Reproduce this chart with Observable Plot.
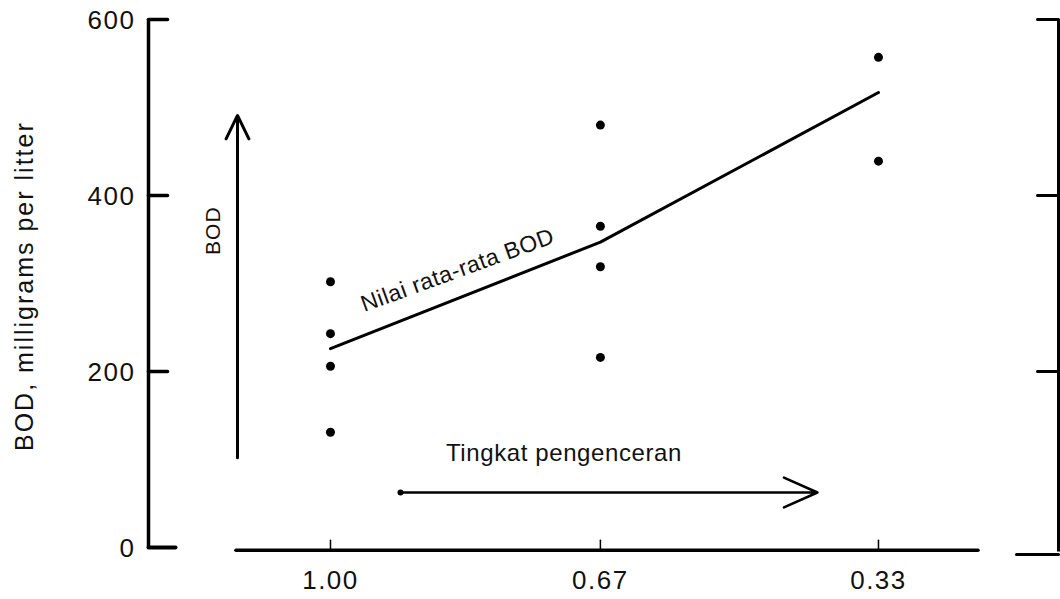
<!DOCTYPE html>
<html><head><meta charset="utf-8">
<script src="https://cdn.jsdelivr.net/npm/d3@7"></script>
<script src="https://cdn.jsdelivr.net/npm/@observablehq/plot@0.6"></script>
<style>
html,body{margin:0;padding:0;background:#fff;}
#chart svg{display:block;}
</style></head><body><div id="chart"></div>
<script>
// ---- data ----
const dilutions = [1.00, 0.67, 0.33];
const xTickLabels = ["1.00", "0.67", "0.33"];
const yTicks = [0, 200, 400, 600];
const bodAt100 = [302, 243, 206, 131];
const bodAt067 = [480, 365, 319, 216];
const bodAt033 = [557, 439];
const meanBOD = [226, 347, 517];

const yAxisLabel = "BOD, milligrams per litter";
const meanLabel = "Nilai rata-rata BOD";
const bodArrowLabel = "BOD";
const dilutionLabel = "Tingkat pengenceran";

// positions (in data units: dilution, BOD) of frame lines and annotations
const xLeftAxis = 1.2225, xRightAxis = 0.1099;
const xAxisFrom = 1.115, xAxisTo = 0.2077;
const bodArrow = {x: 1.1137, y1: 102, y2: 491};
const dilArrow = {y: 62.5, x1: 0.9144, x2: 0.4046};
const labelPos = {
  yAxis: {x: 1.374, y: 297},
  mean: {x: 0.8447, y: 315},
  bod: {x: 1.143, y: 360},
  dil: {x: 0.7145, y: 107}
};

const points = [
  ...bodAt100.map(v => ({d: dilutions[0], v})),
  ...bodAt067.map(v => ({d: dilutions[1], v})),
  ...bodAt033.map(v => ({d: dilutions[2], v}))
];
const meanData = dilutions.map((d, i) => ({d, v: meanBOD[i]}));

const spike = {draw(ctx, l) { ctx.moveTo(0, 0); ctx.lineTo(0, -l); }};
const font = "'Liberation Sans', Arial, Helvetica, sans-serif";

const chart = Plot.plot({
  width: 1060,
  height: 599,
  margin: 0,
  style: {background: "#fff", color: "#000", fontFamily: font},
  x: {domain: [xLeftAxis, xRightAxis], range: [148, 1058], axis: null},
  y: {domain: [0, 600], range: [547, 19], axis: null},
  marks: [
    // left frame axis
    Plot.ruleX([xLeftAxis], {y1: 0, y2: 600, strokeWidth: 3.5}),
    Plot.vector(yTicks.filter(t => t > 0), {x: xLeftAxis, y: d => d, length: 19, rotate: 90, anchor: "start", shape: spike, strokeWidth: 3.5}),
    Plot.vector([0], {x: xLeftAxis, y: d => d, length: 27, rotate: 90, anchor: "start", shape: spike, strokeWidth: 4, strokeLinecap: "round"}),
    Plot.text(yTicks, {x: xLeftAxis, y: d => d, text: d => String(d), dx: -13, dy: 1, textAnchor: "end", fontSize: 26, fill: "#111"}),
    // right frame axis
    Plot.ruleX([xRightAxis], {y1: -5, y2: 600, strokeWidth: 3}),
    Plot.vector(yTicks.filter(t => t > 0), {x: xRightAxis, y: d => d, length: 21, rotate: -90, anchor: "start", shape: spike, strokeWidth: 3}),
    Plot.vector([0], {x: xRightAxis, y: -8, length: 42, rotate: -90, anchor: "start", shape: spike, strokeWidth: 3}),
    // bottom axis
    Plot.ruleY([0], {x1: xAxisFrom, x2: xAxisTo, y: -3, strokeWidth: 3.5, strokeLinecap: "round"}),
    Plot.vector(dilutions, {x: d => d, y: -3, length: 10, rotate: 0, anchor: "start", shape: spike, strokeWidth: 1.5}),
    Plot.text(dilutions, {x: d => d, y: 0, text: (d, i) => xTickLabels[i], dy: 33, fontSize: 26, fill: "#111"}),
    // y axis title
    Plot.text([yAxisLabel], {x: labelPos.yAxis.x, y: labelPos.yAxis.y, text: d => d, rotate: -90, fontSize: 25, fill: "#111"}),
    // BOD arrow
    Plot.arrow([bodArrow], {x1: "x", x2: "x", y1: "y1", y2: "y2", strokeWidth: 3, headLength: 13, headAngle: 52}),
    Plot.text([bodArrowLabel], {x: labelPos.bod.x, y: labelPos.bod.y, text: d => d, rotate: -90, fontSize: 21, fill: "#111"}),
    // dilution arrow
    Plot.arrow([dilArrow], {x1: "x1", x2: "x2", y1: "y", y2: "y", strokeWidth: 2.5, headLength: 22, headAngle: 48}),
    Plot.dot([dilArrow], {x: "x1", y: "y", r: 3, fill: "#000"}),
    Plot.text([dilutionLabel], {x: labelPos.dil.x, y: labelPos.dil.y, text: d => d, fontSize: 24, fill: "#111"}),
    // mean line and label
    Plot.line(meanData, {x: "d", y: "v", strokeWidth: 3, strokeLinecap: "round"}),
    Plot.text([meanLabel], {x: labelPos.mean.x, y: labelPos.mean.y, text: d => d, rotate: -20, fontSize: 23, fill: "#111"}),
    // observations
    Plot.dot(points, {x: "d", y: "v", r: 4.5, fill: "#000"})
  ]
});

// slightly wider letter spacing like the scanned lettering
d3.select(chart).selectAll("text").each(function() {
  const t = this.textContent;
  let ls = 0;
  if (/^\d/.test(t)) ls = 1.5;
  else if (t === yAxisLabel) ls = 2;
  else if (t === dilutionLabel) ls = 0.6;
  else if (t === meanLabel) ls = 0.5;
  else if (t === bodArrowLabel) ls = 1;
  this.setAttribute("letter-spacing", ls);
});

document.getElementById("chart").appendChild(chart);
</script>
</body></html>
